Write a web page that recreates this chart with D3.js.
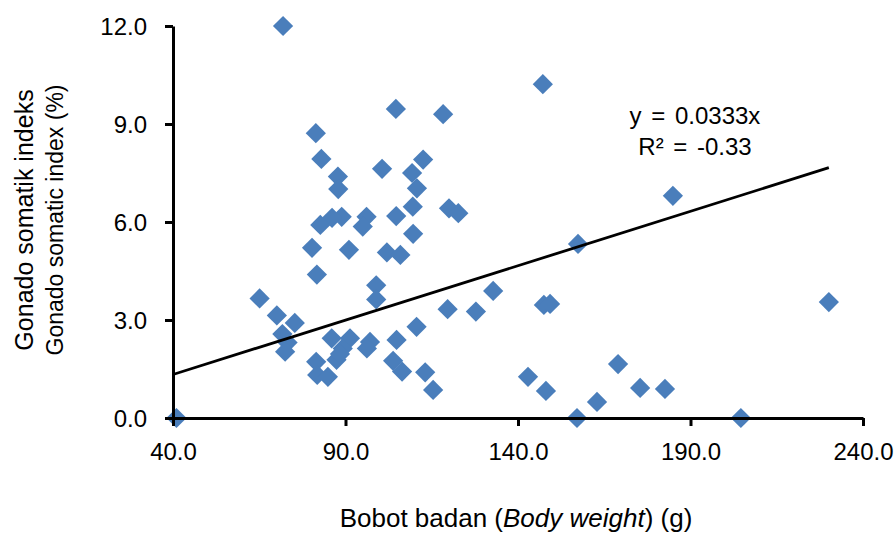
<!DOCTYPE html>
<html>
<head>
<meta charset="utf-8">
<script src="https://cdn.jsdelivr.net/npm/d3@7"></script>
<style>
  html, body { margin: 0; padding: 0; background: #fff; }
  svg { display: block; font-family: "Liberation Sans", Arial, sans-serif; }
</style>
</head>
<body>
<svg id="chart" width="894" height="533"></svg>
<script>
// body weight (g) and gonado somatic index (%)
const bodyWeight = [
  41, 71.9, 147.2, 104.6, 118.3, 81.4, 83.0, 87.8, 100.6, 112.5,
  109.3, 110.7, 87.9, 184.9, 120.0, 122.7, 109.5, 104.7, 88.9, 86.1,
  82.7, 96.1, 95.0, 80.3, 91.0, 102.0, 105.9, 109.6, 157.4, 81.7,
  98.9, 98.9, 65.1, 70.1, 75.3, 71.7, 73.2, 72.5, 132.8, 119.6,
  127.8, 110.6, 147.5, 149.3, 230.1, 86.0, 91.3, 89.2, 87.4, 97.1,
  96.2, 104.8, 81.5, 81.8, 84.9, 88.4, 103.8, 106.4, 113.1, 115.4,
  142.9, 148.1, 169.0, 175.4, 182.6, 162.9, 157.1, 204.6
];
const gsi = [
  0, 12.0, 10.22, 9.46, 9.30, 8.72, 7.93, 7.39, 7.63, 7.91,
  7.50, 7.03, 7.01, 6.80, 6.42, 6.27, 6.47, 6.18, 6.16, 6.13,
  5.91, 6.16, 5.86, 5.21, 5.15, 5.07, 4.99, 5.64, 5.33, 4.39,
  4.06, 3.63, 3.66, 3.14, 2.91, 2.57, 2.31, 2.03, 3.89, 3.33,
  3.26, 2.79, 3.46, 3.49, 3.55, 2.44, 2.44, 2.13, 1.78, 2.33,
  2.13, 2.39, 1.72, 1.32, 1.26, 1.96, 1.75, 1.42, 1.40, 0.86,
  1.26, 0.83, 1.65, 0.92, 0.89, 0.49, 0, 0
];
const xTicks = [40, 90, 140, 190, 240];
const yTicks = [0, 3, 6, 9, 12];
const slope = 0.0333;
const equationLines = ["y = 0.0333x", "R\u00B2 = -0.33"];

const points = bodyWeight.map((w, i) => ({ x: w, y: gsi[i] }));

const svg = d3.select("#chart");
const plotLeft = 173, plotRight = 863, plotTop = 26, plotBottom = 418;

const x = d3.scaleLinear().domain([40, 240]).range([plotLeft, plotRight]);
const y = d3.scaleLinear().domain([0, 12]).range([plotBottom, plotTop]);

// points
const diamond = d3.symbol().type(d3.symbolSquare).size(205);
svg.append("g")
  .selectAll("path")
  .data(points)
  .join("path")
  .attr("d", diamond)
  .attr("transform", d => `translate(${x(d.x)},${y(d.y)}) rotate(45)`)
  .attr("fill", "#4a7ebb");

// axes
const xAxis = svg.append("g")
  .attr("transform", `translate(0,${plotBottom})`)
  .call(d3.axisBottom(x).tickValues(xTicks).tickSize(8).tickSizeOuter(0).tickPadding(17)
    .tickFormat(d3.format(".1f")));
const yAxis = svg.append("g")
  .attr("transform", `translate(${plotLeft},0)`)
  .call(d3.axisLeft(y).tickValues(yTicks).tickSize(8).tickSizeOuter(0).tickPadding(18)
    .tickFormat(d3.format(".1f")));

[xAxis, yAxis].forEach(g => {
  g.select(".domain").attr("stroke", "#000").attr("stroke-width", 3);
  g.selectAll(".tick line").attr("stroke", "#000").attr("stroke-width", 3);
  g.selectAll(".tick text")
    .attr("fill", "#000")
    .style("font-size", "24px")
    .style("font-family", "'Liberation Sans', Arial, sans-serif");
});
yAxis.selectAll(".tick text").attr("dy", "0.34em");
xAxis.selectAll(".tick text").attr("dy", "0.72em");

// trend line y = 0.0333x
const xMax = d3.max(bodyWeight);
svg.append("line")
  .attr("x1", x(40)).attr("y1", y(slope * 40))
  .attr("x2", x(xMax)).attr("y2", y(slope * xMax))
  .attr("stroke", "#000")
  .attr("stroke-width", 2.8);

// equation label
svg.append("g")
  .selectAll("text")
  .data(equationLines)
  .join("text")
  .attr("x", 695)
  .attr("y", (d, i) => 124 + i * 31)
  .attr("text-anchor", "middle")
  .attr("font-size", 24)
  .attr("word-spacing", 3)
  .text(d => d);

// axis titles
svg.append("text")
  .attr("x", 516)
  .attr("y", 527)
  .attr("text-anchor", "middle")
  .attr("font-size", 26)
  .call(t => {
    t.append("tspan").text("Bobot badan (");
    t.append("tspan").attr("font-style", "italic").text("Body weight");
    t.append("tspan").text(") (g)");
  });

const yTitle = ["Gonado somatik indeks", "Gonado somatic index (%)"];
svg.append("g")
  .selectAll("text")
  .data(yTitle)
  .join("text")
  .attr("transform", (d, i) => `translate(${33 + i * 30},220) rotate(-90)`)
  .attr("text-anchor", "middle")
  .attr("font-size", (d, i) => i === 0 ? 25 : 23)
  .text(d => d);
</script>
</body>
</html>
